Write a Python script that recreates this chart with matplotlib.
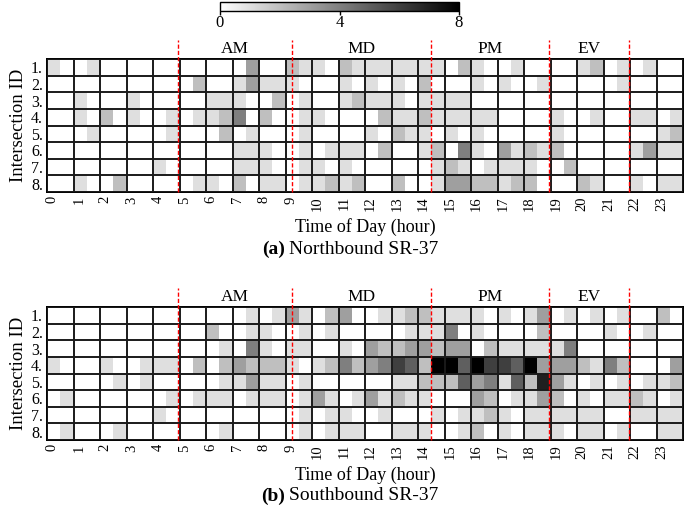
import matplotlib.pyplot as plt
import numpy as np

plt.rcParams['font.family'] = ['Liberation Serif', 'DejaVu Serif']

hours = list(range(24))
intersections = ['1.', '2.', '3.', '4.', '5.', '6.', '7.', '8.']
periods = ['AM', 'MD', 'PM', 'EV']
period_bounds = [4.95, 9.25, 14.5, 18.95, 21.95]

# half-hour bins, 48 per row
northbound = np.array([
    [1,0, 0,1, 0,0, 0,0, 0,0, 0,0, 0,0, 0,3, 0,0, 2,1, 1,0, 2,1, 1,1, 1,1, 1,1, 0,2, 1,0, 0,1, 0,0, 0,0, 1,2, 0,1, 0,1, 0,0],
    [0,0, 0,0, 0,0, 0,0, 0,0, 0,2, 0,0, 1,3, 1,1, 1,0, 0,0, 1,0, 1,0, 1,0, 2,0, 0,0, 1,0, 1,0, 0,1, 0,0, 0,0, 0,1, 0,0, 0,0],
    [0,0, 1,0, 0,0, 1,0, 0,0, 0,0, 1,1, 1,0, 0,2, 0,1, 0,0, 1,2, 1,1, 1,0, 1,1, 1,1, 0,0, 0,0, 0,0, 0,0, 0,0, 0,0, 0,0, 0,0],
    [0,0, 1,0, 2,0, 1,0, 0,1, 0,1, 1,2, 4,0, 2,0, 0,1, 1,0, 0,0, 0,2, 1,1, 2,1, 1,1, 1,1, 0,0, 0,0, 1,0, 0,1, 0,0, 1,1, 0,1],
    [0,0, 0,1, 0,0, 0,0, 0,1, 0,0, 0,2, 0,1, 0,0, 0,1, 0,0, 0,0, 1,0, 2,1, 1,0, 1,0, 1,0, 0,0, 0,0, 1,0, 0,0, 0,0, 0,0, 1,2],
    [0,0, 0,0, 0,0, 0,0, 0,0, 0,0, 0,0, 1,1, 1,0, 0,1, 0,1, 1,1, 0,2, 0,0, 1,2, 0,4, 1,0, 3,1, 2,1, 2,0, 0,0, 0,0, 1,3, 1,1],
    [0,0, 0,0, 0,0, 0,0, 1,0, 0,0, 0,0, 1,1, 1,0, 0,1, 1,0, 1,0, 0,0, 0,0, 0,1, 2,1, 0,1, 1,1, 1,0, 0,2, 0,0, 0,0, 0,0, 0,0],
    [0,0, 1,0, 0,2, 0,0, 0,0, 0,1, 1,0, 2,0, 1,1, 0,1, 1,2, 1,2, 0,0, 2,0, 0,1, 3,3, 2,2, 1,2, 2,0, 0,0, 2,1, 0,0, 1,0, 1,1],
])

southbound = np.array([
    [0,0, 0,0, 0,0, 0,0, 0,0, 0,0, 0,0, 0,1, 0,1, 3,1, 0,2, 3,0, 0,1, 1,2, 2,1, 1,1, 1,0, 1,0, 1,3, 0,1, 0,1, 0,1, 0,0, 2,0],
    [0,0, 0,0, 0,0, 0,0, 0,0, 0,0, 2,0, 0,1, 1,0, 0,1, 0,1, 0,0, 0,0, 0,1, 1,1, 4,0, 1,0, 0,0, 0,2, 0,0, 0,0, 1,0, 0,1, 0,0],
    [0,0, 0,0, 0,0, 0,0, 0,0, 0,0, 0,1, 0,4, 1,0, 1,1, 0,0, 1,0, 3,2, 2,3, 3,2, 3,3, 0,2, 1,1, 1,1, 1,4, 0,0, 0,0, 0,0, 0,0],
    [1,0, 0,0, 1,0, 0,1, 1,1, 0,2, 0,2, 3,2, 2,2, 1,0, 1,2, 4,2, 3,4, 6,5, 2,8, 8,5, 8,6, 6,5, 8,3, 3,3, 2,1, 4,2, 0,0, 0,3],
    [0,0, 0,0, 0,1, 0,1, 0,0, 0,0, 0,1, 1,3, 1,1, 0,1, 0,0, 0,0, 0,0, 1,1, 2,2, 2,5, 3,4, 1,5, 2,7, 3,1, 0,1, 0,1, 0,1, 1,2],
    [0,1, 0,0, 0,0, 0,0, 0,1, 0,1, 1,1, 0,1, 1,1, 0,1, 3,1, 0,1, 3,1, 2,1, 1,0, 0,0, 3,2, 0,1, 1,3, 2,0, 1,0, 1,1, 2,1, 0,1],
    [0,0, 0,0, 0,0, 0,0, 1,0, 0,0, 0,0, 0,0, 0,0, 0,1, 0,1, 1,0, 0,1, 0,0, 0,1, 0,1, 1,2, 1,0, 1,1, 1,1, 1,1, 0,0, 1,1, 1,1],
    [0,1, 0,0, 0,1, 0,0, 0,0, 0,0, 0,1, 0,0, 0,0, 0,1, 0,1, 1,1, 0,0, 1,1, 1,0, 0,1, 2,0, 1,0, 1,1, 1,0, 1,1, 0,1, 0,0, 1,1],
])

W, H = 685, 517
fig = plt.figure(figsize=(W / 100, H / 100), dpi=100)


def draw_panel(rect, counts, tag, name, cap_y):
    ax = fig.add_axes(rect)
    x_edges = np.arange(0, 24.01, 0.5)
    y_edges = np.arange(len(intersections) + 1)
    mesh = ax.pcolormesh(x_edges, y_edges, counts, cmap='gray_r', vmin=0, vmax=8)
    ax.set_xlim(0, 24)
    ax.set_ylim(len(intersections), 0)
    for h in range(25):
        ax.axvline(h, color='#1a1a1a', lw=1.4, zorder=3)
    for r in range(len(intersections) + 1):
        ax.axhline(r, color='#1a1a1a', lw=1.4, zorder=3)
    for s in ax.spines.values():
        s.set_linewidth(1.4)

    for b in period_bounds:
        ax.plot([b, b], [8, -1.15], color='red', ls='--', lw=1.0,
                dashes=(3, 1.5), clip_on=False, zorder=4)
    for p, a, b in zip(periods, period_bounds[:-1], period_bounds[1:]):
        ax.text((a + b) / 2, -0.12, p, ha='center', va='bottom', fontsize=12.5)

    ax.set_xticks(np.array(hours) + 0.2)
    ax.set_xticklabels([str(h) for h in hours], rotation=90, fontsize=10.5)
    ax.set_yticks(np.arange(len(intersections)) + 0.5)
    ax.set_yticklabels(intersections, fontsize=11.5)
    ax.tick_params(length=0, pad=3)
    ax.set_xlabel('Time of Day (hour)', fontsize=13, labelpad=5)
    ax.set_ylabel('Intersection ID', fontsize=13.5, labelpad=3)

    fig.text(285 / W, 1 - cap_y / H, tag, ha='right', va='center',
             fontsize=14, fontweight='bold')
    fig.text(289 / W, 1 - cap_y / H, name, ha='left', va='center', fontsize=14)
    return mesh


mesh = draw_panel([47 / W, 1 - 192 / H, 636 / W, 133 / H], northbound,
                  '(a)', 'Northbound SR-37', 249)
draw_panel([47 / W, 1 - 440 / H, 636 / W, 133 / H], southbound,
           '(b)', 'Southbound SR-37', 496)

cax = fig.add_axes([220 / W, 1 - 11 / H, 239 / W, 9 / H])
cb = fig.colorbar(mesh, cax=cax, orientation='horizontal', ticks=[0, 4, 8])
cb.outline.set_linewidth(1.0)
cax.tick_params(labelsize=12, length=3, width=1, pad=0)

fig.savefig('out.png', dpi=100)
